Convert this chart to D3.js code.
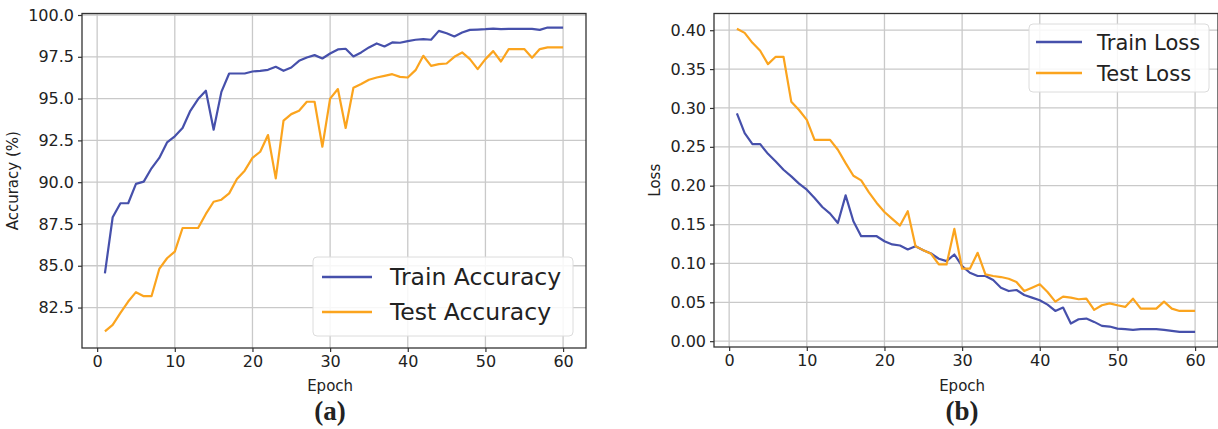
<!DOCTYPE html>
<html><head><meta charset="utf-8">
<script src="https://cdn.jsdelivr.net/npm/d3@7"></script>
<style>
body{margin:0;background:#fff;}
svg{display:block;}
text{font-family:"DejaVu Sans",sans-serif;fill:#222;}
</style></head>
<body><svg id="chart" width="1218" height="429"></svg>
<script>
const epochs = d3.range(1, 61);
const trainAcc = [84.55,87.9,88.74,88.74,89.9,90.03,90.83,91.45,92.38,92.74,
93.24,94.27,94.97,95.47,93.14,95.4,96.5,96.5,96.5,96.62,
96.66,96.72,96.9,96.66,96.86,97.26,97.46,97.6,97.4,97.7,
97.94,97.98,97.52,97.76,98.06,98.3,98.12,98.36,98.34,98.44,
98.52,98.56,98.52,99.05,98.91,98.72,98.95,99.11,99.13,99.15,
99.19,99.15,99.17,99.17,99.17,99.17,99.11,99.25,99.25,99.25];
const testAcc = [81.07,81.46,82.18,82.86,83.42,83.18,83.18,84.81,85.45,85.85,
87.26,87.26,87.26,88.1,88.83,88.95,89.33,90.19,90.69,91.45,
91.82,92.82,90.23,93.68,94.07,94.27,94.81,94.81,92.12,95.0,
95.57,93.24,95.65,95.87,96.13,96.26,96.36,96.46,96.3,96.26,
96.7,97.56,96.96,97.06,97.1,97.5,97.76,97.36,96.76,97.36,
97.84,97.22,97.96,97.96,97.96,97.44,97.96,98.06,98.06,98.06];
const trainLoss = [0.293,0.2675,0.2534,0.2534,0.241,0.2312,0.2205,0.212,0.2026,0.1949,
0.1842,0.1726,0.1641,0.1521,0.1876,0.1543,0.135,0.135,0.135,0.1285,
0.1244,0.1231,0.118,0.1222,0.117,0.1128,0.106,0.103,0.1115,0.0966,
0.088,0.0838,0.0838,0.0786,0.0688,0.0645,0.0658,0.0594,0.056,0.0526,
0.047,0.0389,0.0432,0.0227,0.0282,0.0291,0.0248,0.0197,0.0188,0.0162,
0.0154,0.0145,0.0154,0.0154,0.0154,0.0145,0.0132,0.012,0.012,0.012];
const testLoss = [0.402,0.3966,0.3838,0.3735,0.3564,0.3658,0.3658,0.3081,0.2974,0.2846,
0.259,0.259,0.259,0.2462,0.229,0.2128,0.2068,0.1915,0.1778,0.1662,
0.1573,0.1487,0.1671,0.1222,0.1171,0.1124,0.0987,0.0987,0.1444,0.0932,
0.0932,0.1137,0.0859,0.0838,0.0825,0.0803,0.0761,0.0645,0.0688,0.0731,
0.0632,0.0509,0.0573,0.056,0.0539,0.0547,0.0402,0.0462,0.0487,0.0462,
0.0441,0.0547,0.0419,0.0419,0.0419,0.0509,0.0419,0.0389,0.0389,0.0389];
const xTicks = [0,10,20,30,40,50,60];
const accTicks = [82.5,85.0,87.5,90.0,92.5,95.0,97.5,100.0];
const lossTicks = [0.00,0.05,0.10,0.15,0.20,0.25,0.30,0.35,0.40];
const accLabels = ["Train Accuracy","Test Accuracy"];
const lossLabels = ["Train Loss","Test Loss"];
const colors = ["#4650ab","#fba41e"];

const svg = d3.select("#chart");

function panel(o){
  const g = svg.append("g");
  const x = d3.scaleLinear().domain([-1.95,62.95]).range([o.left,o.right]);
  const y = d3.scaleLinear().domain(o.yDomain).range([o.bottom,o.top]);
  g.selectAll(".gx").data(xTicks).enter().append("line")
    .attr("x1",d=>x(d)).attr("x2",d=>x(d)).attr("y1",o.top).attr("y2",o.bottom)
    .attr("stroke","#c9c9c9").attr("stroke-width",1.3);
  g.selectAll(".gy").data(o.yTicks).enter().append("line")
    .attr("y1",d=>y(d)).attr("y2",d=>y(d)).attr("x1",o.left).attr("x2",o.right)
    .attr("stroke","#c9c9c9").attr("stroke-width",1.3);
  const line = d3.line().x((d,i)=>x(epochs[i])).y(d=>y(d));
  o.series.forEach((s,i)=>{
    g.append("path").datum(s).attr("d",line).attr("fill","none")
      .attr("stroke",colors[i]).attr("stroke-width",2.2).attr("stroke-linejoin","round");
  });
  const ax = g.append("g").attr("transform",`translate(0,${o.bottom})`)
    .call(d3.axisBottom(x).tickValues(xTicks).tickSize(4).tickPadding(4).tickFormat(d3.format("d")));
  const ay = g.append("g").attr("transform",`translate(${o.left},0)`)
    .call(d3.axisLeft(y).tickValues(o.yTicks).tickSize(4).tickPadding(4).tickFormat(o.fmt));
  [ax,ay].forEach(a=>{
    a.select(".domain").remove();
    a.selectAll(".tick line").attr("stroke","#333").attr("stroke-width",1.2);
    a.selectAll(".tick text").attr("font-family","DejaVu Sans").attr("font-size",16).attr("fill","#222");
  });
  g.append("rect").attr("x",o.left).attr("y",o.top).attr("width",o.right-o.left).attr("height",o.bottom-o.top)
    .attr("fill","none").attr("stroke","#333").attr("stroke-width",1.3);
  const cx = x(30);
  g.append("text").attr("x",cx).attr("y",391).attr("text-anchor","middle").attr("font-size",15).text("Epoch");
  g.append("text").attr("transform",`translate(${o.ylabX},${(o.top+o.bottom)/2}) rotate(-90)`)
    .attr("text-anchor","middle").attr("font-size",15).text(o.ylabel);
  g.append("text").attr("x",cx).attr("y",420).attr("text-anchor","middle")
    .attr("font-weight","bold").attr("font-size",27)
    .style("font-family","'Liberation Serif', serif").text(o.tag);
  const L = o.legend;
  const lg = g.append("g");
  lg.append("rect").attr("x",L.x).attr("y",L.y).attr("width",L.w).attr("height",L.h).attr("rx",4)
    .attr("fill","rgba(255,255,255,0.85)").attr("stroke","#dcdcdc").attr("stroke-width",1);
  o.labels.forEach((t,i)=>{
    const yy = L.y + L.first + i*L.gap;
    lg.append("line").attr("x1",L.x+L.lx).attr("x2",L.x+L.lx+L.len).attr("y1",yy).attr("y2",yy)
      .attr("stroke",colors[i]).attr("stroke-width",2.4);
    lg.append("text").attr("x",L.x+L.tx).attr("y",yy).attr("dy","0.36em").attr("font-size",L.fs).text(t);
  });
}

panel({left:82,right:586,top:13.5,bottom:348,yDomain:[80.08,100.09],yTicks:accTicks,
  fmt:d3.format(".1f"),series:[trainAcc,testAcc],labels:accLabels,ylabel:"Accuracy (%)",ylabX:18,tag:"(a)",
  legend:{x:313,y:257,w:260,h:79,first:20,gap:35,lx:9,len:50,tx:77,fs:23.5}});
panel({left:714,right:1218,top:13.5,bottom:347,yDomain:[-0.0075,0.4215],yTicks:lossTicks,
  fmt:d3.format(".2f"),series:[trainLoss,testLoss],labels:lossLabels,ylabel:"Loss",ylabX:660,tag:"(b)",
  legend:{x:1029,y:24,w:180,h:68,first:18,gap:31,lx:7,len:46,tx:68,fs:21}});
</script></body></html>
